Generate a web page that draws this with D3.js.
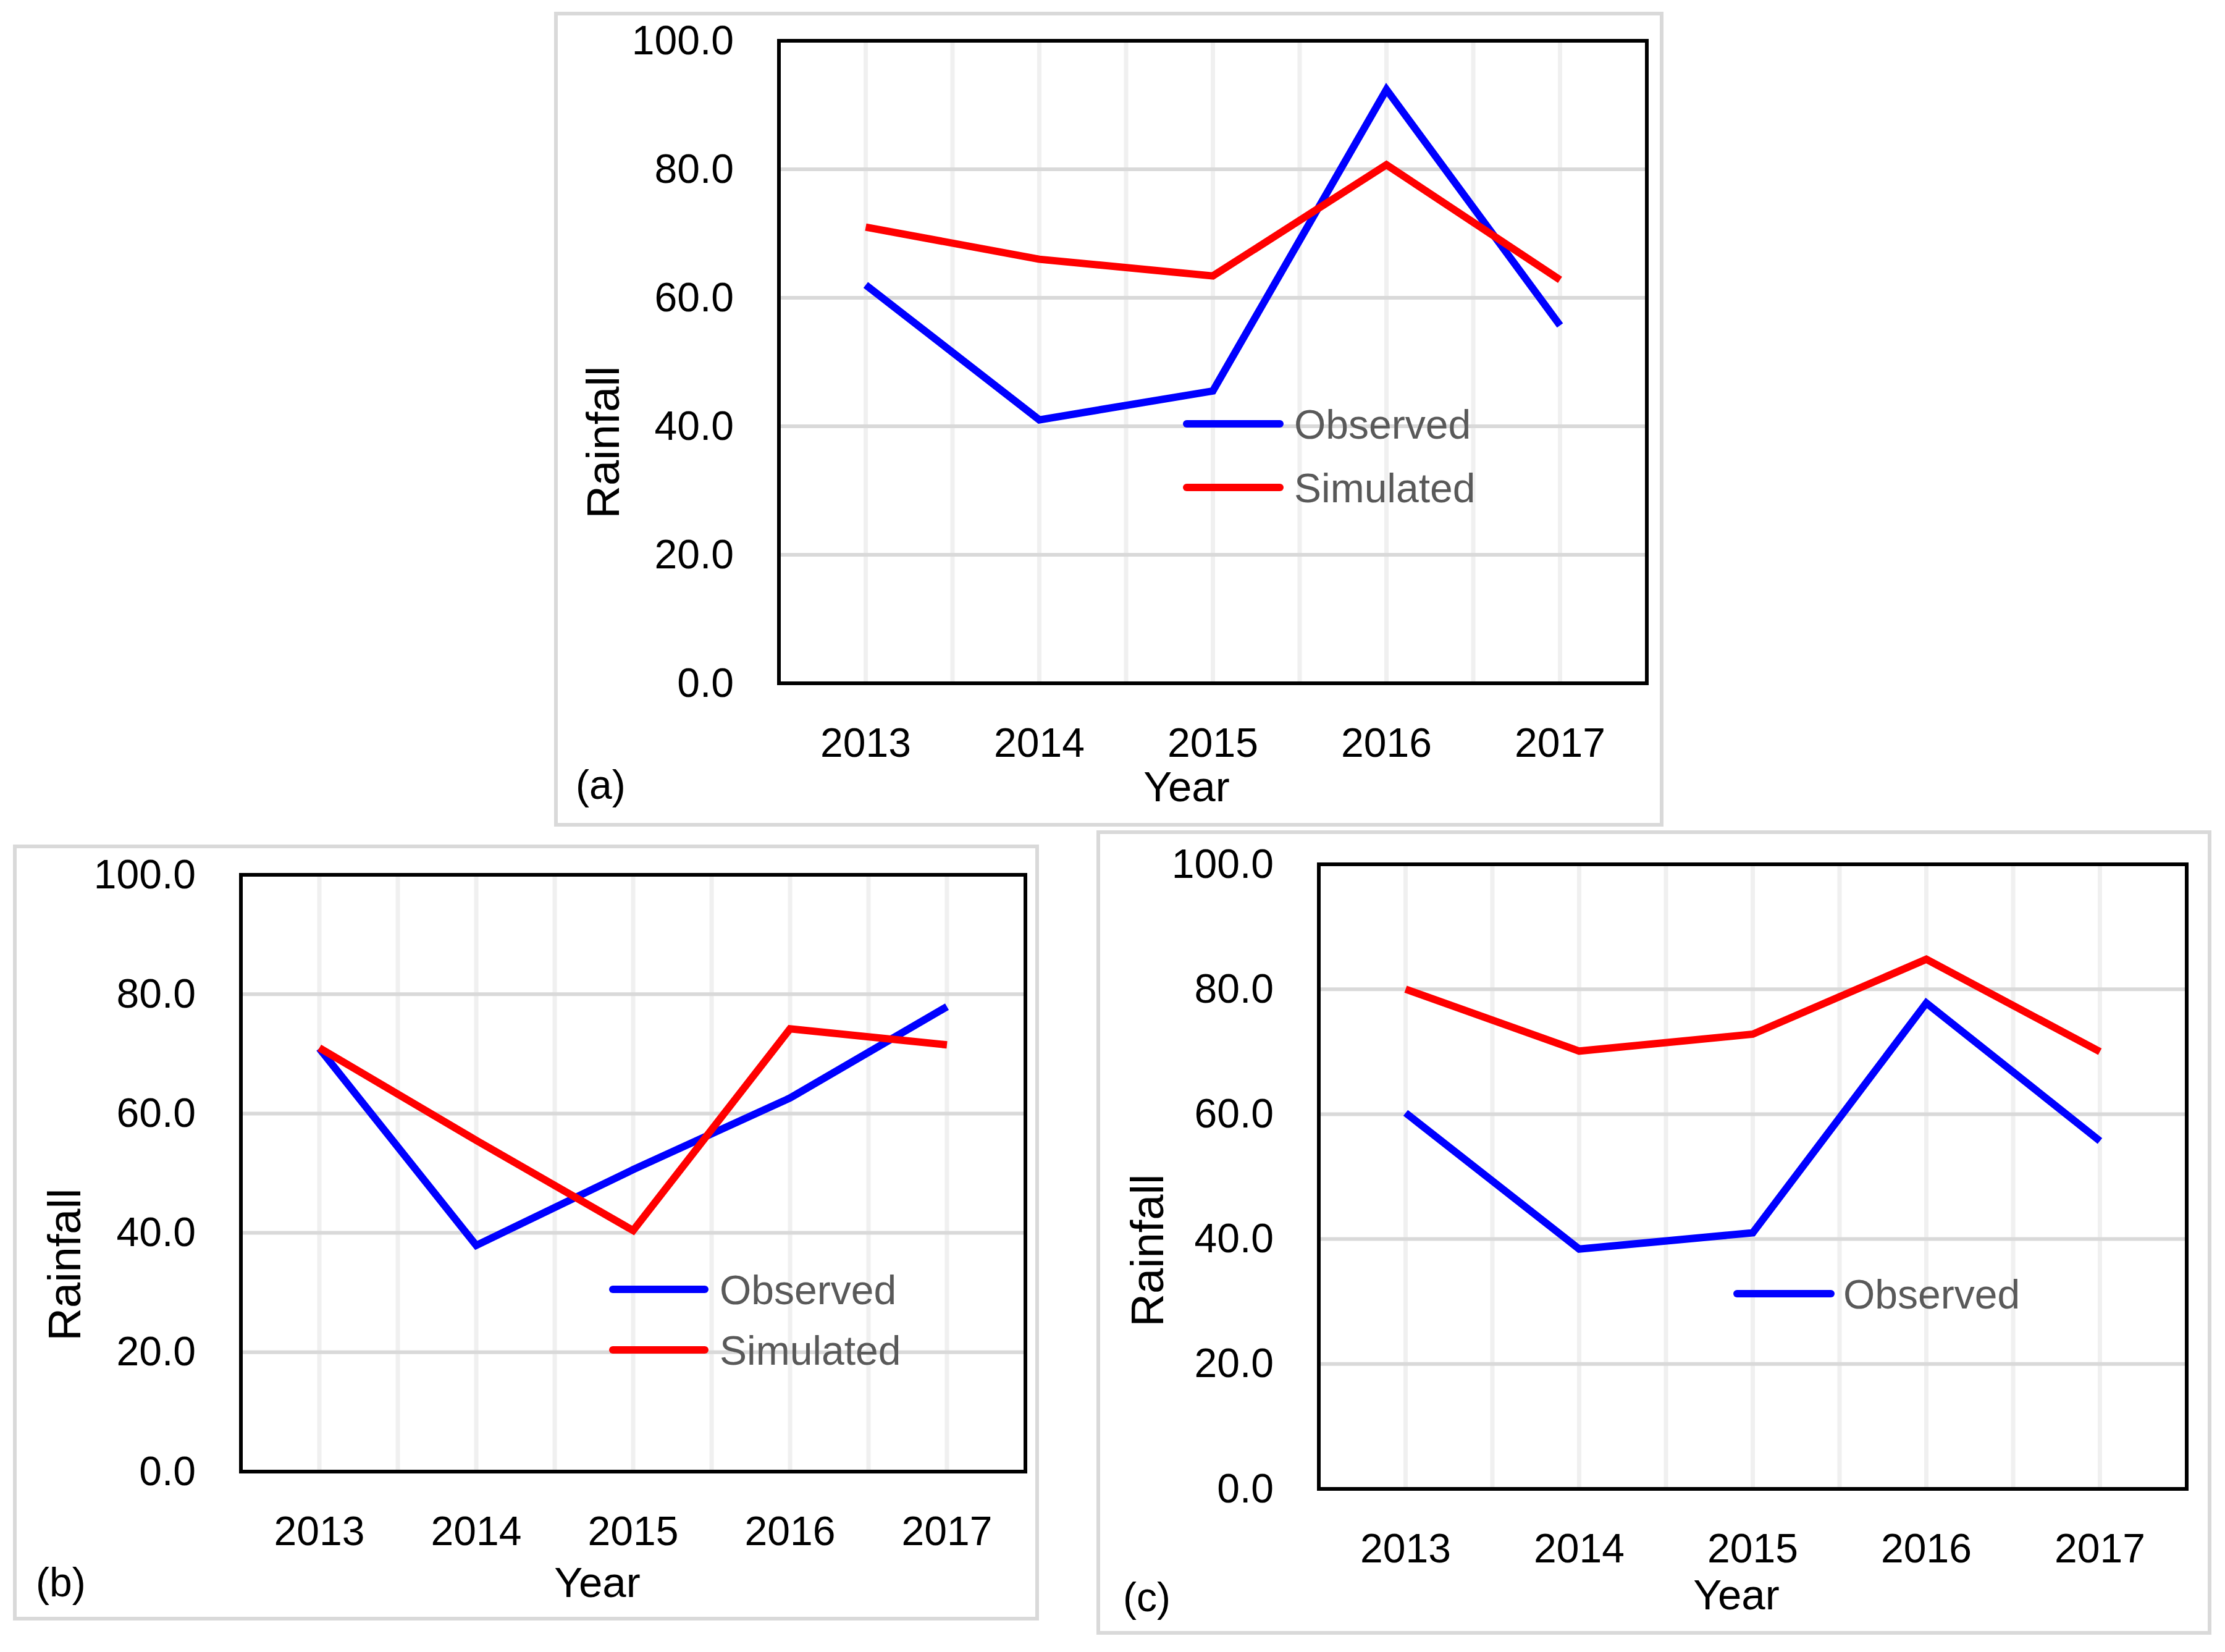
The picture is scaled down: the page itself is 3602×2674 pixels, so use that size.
<!DOCTYPE html>
<meta charset="utf-8">
<body style="margin:0;background-color:white;">
<svg width="3602" height="2674"></svg>
<script src="https://cdn.jsdelivr.net/npm/d3@7"></script>
<script>

// data
var years = ["2013", "2014", "2015", "2016", "2017"];
var yTicks = [0, 20, 40, 60, 80, 100];

var observedA = [62.0, 41.0, 45.5, 92.4, 55.7];
var simulatedA = [71.0, 66.0, 63.4, 80.7, 62.8];

var observedB = [70.9, 37.9, 50.6, 62.6, 77.9];
var simulatedB = [71.0, 55.5, 40.4, 74.2, 71.5];

var observedC = [60.2, 38.4, 41.0, 77.8, 55.7];
var simulatedC = [80.0, 70.1, 72.8, 84.8, 70.0];

var svg = d3.select("svg");
var FONT = "'Liberation Sans', Arial, sans-serif";

// layout of the three panels (frame, plot area, labels, legend)
var panels = [
  { tag: "(a)", frame: [900, 22, 2690, 1335], plot: [1261, 66, 2666, 1106],
    tagPos: [932, 1293], yearPos: [1921, 1297], rainPos: [1002, 716],
    legend: { x1: 1915, x2: 2078, tx: 2095, y: 686, dy: 103 },
    series: [{ name: "Observed", color: "#0000ff", values: observedA },
             { name: "Simulated", color: "#ff0000", values: simulatedA }],
    legendNames: ["Observed", "Simulated"] },
  { tag: "(b)", frame: [24, 1370, 1679, 2620], plot: [390, 1416, 1660, 2382],
    tagPos: [58, 2584], yearPos: [967, 2585], rainPos: [130, 2047],
    legend: { x1: 986, x2: 1147, tx: 1165, y: 2087, dy: 98 },
    series: [{ name: "Observed", color: "#0000ff", values: observedB },
             { name: "Simulated", color: "#ff0000", values: simulatedB }],
    legendNames: ["Observed", "Simulated"] },
  { tag: "(c)", frame: [1778, 1347, 3577, 2643], plot: [2135, 1399, 3540, 2410],
    tagPos: [1818, 2608], yearPos: [2811, 2605], rainPos: [1883, 2024],
    legend: { x1: 2806, x2: 2970, tx: 2984, y: 2094, dy: 98 },
    series: [{ name: "Simulated", color: "#ff0000", values: simulatedC },
             { name: "Observed", color: "#0000ff", values: observedC }],
    legendNames: ["Observed"] }
];

panels.forEach(drawPanel);

function drawPanel(p) {
  var g = svg.append("g");

  // outer frame
  g.append("rect")
    .attr("x", p.frame[0]).attr("y", p.frame[1])
    .attr("width", p.frame[2] - p.frame[0])
    .attr("height", p.frame[3] - p.frame[1])
    .attr("fill", "white")
    .attr("stroke", "#d9d9d9")
    .attr("stroke-width", 6);

  var x = d3.scaleBand().domain(years).range([p.plot[0], p.plot[2]]).padding(0);
  var y = d3.scaleLinear().domain([0, 100]).range([p.plot[3], p.plot[1]]);
  var bw = x.bandwidth();

  // light vertical gridlines at band centres and band edges
  var vlines = [];
  years.forEach(function(yr, i) {
    if (i > 0) vlines.push(x(yr));
    vlines.push(x(yr) + bw / 2);
  });
  g.append("g").selectAll("line").data(vlines).join("line")
    .attr("x1", function(d) { return d; }).attr("x2", function(d) { return d; })
    .attr("y1", p.plot[1]).attr("y2", p.plot[3])
    .attr("stroke", "#f0f0f0").attr("stroke-width", 7);

  // horizontal gridlines
  g.append("g").selectAll("line").data(yTicks.slice(1, -1)).join("line")
    .attr("x1", p.plot[0]).attr("x2", p.plot[2])
    .attr("y1", function(d) { return y(d); }).attr("y2", function(d) { return y(d); })
    .attr("stroke", "#d9d9d9").attr("stroke-width", 6);

  // plot border
  g.append("rect")
    .attr("x", p.plot[0]).attr("y", p.plot[1])
    .attr("width", p.plot[2] - p.plot[0])
    .attr("height", p.plot[3] - p.plot[1])
    .attr("fill", "none")
    .attr("stroke", "black")
    .attr("stroke-width", 6);

  // axes
  var yAxis = g.append("g")
    .attr("transform", "translate(" + p.plot[0] + ",0)")
    .call(d3.axisLeft(y).tickValues(yTicks).tickFormat(d3.format(".1f")).tickSize(0).tickPadding(73));
  var xAxis = g.append("g")
    .attr("transform", "translate(0," + p.plot[3] + ")")
    .call(d3.axisBottom(x).tickSize(0).tickPadding(72));
  [yAxis, xAxis].forEach(function(ax) {
    ax.select(".domain").remove();
    ax.selectAll("text").attr("font-family", FONT).attr("font-size", 66).attr("fill", "black");
  });

  // data lines
  var line = d3.line()
    .x(function(d, i) { return x(years[i]) + bw / 2; })
    .y(function(d) { return y(d); });
  p.series.forEach(function(s) {
    g.append("path")
      .attr("d", line(s.values))
      .attr("fill", "none")
      .attr("stroke", s.color)
      .attr("stroke-width", 12)
      .attr("stroke-linejoin", "miter");
  });

  // legend
  p.legendNames.forEach(function(name, i) {
    var s = p.series.filter(function(d) { return d.name == name; })[0];
    var ly = p.legend.y + i * p.legend.dy;
    g.append("line")
      .attr("x1", p.legend.x1 + 6).attr("x2", p.legend.x2 - 6)
      .attr("y1", ly).attr("y2", ly)
      .attr("stroke", s.color).attr("stroke-width", 12)
      .attr("stroke-linecap", "round");
    g.append("text")
      .attr("x", p.legend.tx).attr("y", ly).attr("dy", "0.36em")
      .attr("font-family", FONT).attr("font-size", 66)
      .attr("fill", "#595959")
      .text(name);
  });

  // axis titles and panel tag
  g.append("text")
    .attr("x", p.yearPos[0]).attr("y", p.yearPos[1])
    .attr("text-anchor", "middle")
    .attr("font-family", FONT).attr("font-size", 69)
    .text("Year");
  g.append("text")
    .attr("transform", "translate(" + p.rainPos[0] + "," + p.rainPos[1] + ")rotate(-90)")
    .attr("text-anchor", "middle")
    .attr("font-family", FONT).attr("font-size", 74)
    .text("Rainfall");
  g.append("text")
    .attr("x", p.tagPos[0]).attr("y", p.tagPos[1])
    .attr("font-family", FONT).attr("font-size", 66)
    .text(p.tag);
}

</script>
</body>
